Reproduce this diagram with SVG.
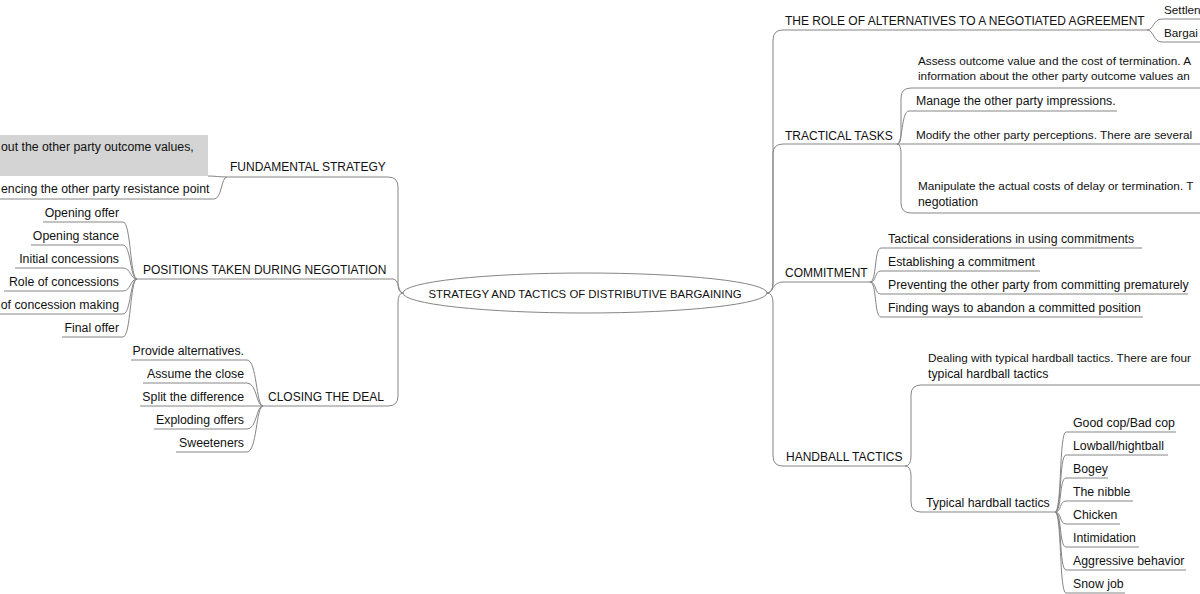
<svg xmlns="http://www.w3.org/2000/svg" width="1200" height="594" viewBox="0 0 1200 594">
<style>
.t{font-family:"Liberation Sans",Arial,sans-serif;font-size:12.3px;fill:#111}
.m{font-size:12px}
.s{font-size:11.75px}
.e{text-anchor:end}
.u,.c{fill:none;stroke:#858585;stroke-width:1}
</style>
<rect width="1200" height="594" fill="#fff"/>
<g id="connectors" class="c">
<path d="M403,293 Q398,293 398,283 V187 Q398,177 388,177"/>
<path d="M403,293 C398,293 399,279 393,279"/>
<path d="M403,293 Q398,293 398,303 V396 Q398,406 388,406"/>
<path d="M227,177 C220,177 215,176 208,176"/>
<path d="M227,177 C221,177 222,199 214,199"/>
<path d="M137,279 C130,279 131,222 123,222"/>
<path d="M137,279 C130,279 131,245 123,245"/>
<path d="M137,279 C130,279 131,268 123,268"/>
<path d="M137,279 C130,279 131,291 123,291"/>
<path d="M137,279 C130,279 131,314 123,314"/>
<path d="M137,279 C130,279 131,337 123,337"/>
<path d="M263,406 C256,406 257,360 247,360"/>
<path d="M263,406 C256,406 257,383 247,383"/>
<path d="M263,406 H247"/>
<path d="M263,406 C256,406 257,429 247,429"/>
<path d="M263,406 C256,406 257,452 247,452"/>
<path d="M767,293 Q773,293 773,283 V40 Q773,30 783,30"/>
<path d="M767,293 Q773,293 773,283 V154 Q773,144 783,144"/>
<path d="M767,293 C773,293 772,282 783,282"/>
<path d="M767,293 Q773,293 773,303 V456 Q773,466 783,466"/>
<path d="M1147,30 C1154,30 1153,19 1162,19"/>
<path d="M1147,30 C1154,30 1153,42 1162,42"/>
<path d="M897,144 Q901,144 901,134 V98 Q901,88 911,88"/>
<path d="M897,144 C903,144 901,111 909,111"/>
<path d="M897,144 H909"/>
<path d="M897,144 Q901,144 901,154 V203 Q901,213 911,213"/>
<path d="M870,282 C877,282 874,248 881,248"/>
<path d="M870,282 C877,282 874,271 881,271"/>
<path d="M870,282 C877,282 874,294 881,294"/>
<path d="M870,282 C877,282 874,317 881,317"/>
<path d="M905,466 Q911,466 911,456 V395 Q911,385 921,385"/>
<path d="M905,466 Q911,466 911,476 V502 Q911,512 921,512"/>
<path d="M1055,512 C1062,512 1059,432 1066,432"/>
<path d="M1055,512 C1062,512 1059,455 1066,455"/>
<path d="M1055,512 C1062,512 1059,478 1066,478"/>
<path d="M1055,512 C1062,512 1059,501 1066,501"/>
<path d="M1055,512 C1062,512 1059,524 1066,524"/>
<path d="M1055,512 C1062,512 1059,547 1066,547"/>
<path d="M1055,512 C1062,512 1059,570 1066,570"/>
<path d="M1055,512 C1062,512 1059,593 1066,593"/>
</g>
<g id="center">
<ellipse cx="585" cy="293" rx="182" ry="20" fill="#fff" stroke="#858585"/>
<text class="t" x="585" y="297.5" text-anchor="middle" style="font-size:11.4px">STRATEGY AND TACTICS OF DISTRIBUTIVE BARGAINING</text>
</g>
<g id="fundamental-strategy"><text class="t m" x="230" y="171">FUNDAMENTAL STRATEGY</text><path class="u" d="M227,177 H388"/></g>
<g id="fs-info"><rect x="0" y="135" width="208" height="41" fill="#d4d4d4"/><text class="t" x="1" y="151">out the other party outcome values,</text></g>
<g id="fs-influence"><text class="t" x="1" y="193">encing the other party resistance point</text><path class="u" d="M0,199 H214"/></g>
<g id="positions"><text class="t m" x="143" y="274">POSITIONS TAKEN DURING NEGOTIATION</text><path class="u" d="M137,279 H393"/></g>
<g id="opening-offer"><text class="t e" x="119" y="217">Opening offer</text><path class="u" d="M43,222 H123"/></g>
<g id="opening-stance"><text class="t e" x="119" y="240">Opening stance</text><path class="u" d="M31,245 H123"/></g>
<g id="initial-concessions"><text class="t e" x="119" y="263">Initial concessions</text><path class="u" d="M15,268 H123"/></g>
<g id="role-concessions"><text class="t e" x="119" y="286">Role of concessions</text><path class="u" d="M4,291 H123"/></g>
<g id="concession-making"><text class="t e" x="119" y="309">of concession making</text><path class="u" d="M0,314 H123"/></g>
<g id="final-offer"><text class="t e" x="119" y="332">Final offer</text><path class="u" d="M62,337 H123"/></g>
<g id="closing"><text class="t m" x="268" y="401">CLOSING THE DEAL</text><path class="u" d="M263,406 H388"/></g>
<g id="provide-alternatives"><text class="t e" x="244" y="355">Provide alternatives.</text><path class="u" d="M131,360 H247"/></g>
<g id="assume-close"><text class="t e" x="244" y="378">Assume the close</text><path class="u" d="M143,383 H247"/></g>
<g id="split-difference"><text class="t e" x="244" y="401">Split the difference</text><path class="u" d="M140,406 H247"/></g>
<g id="exploding-offers"><text class="t e" x="244" y="424">Exploding offers</text><path class="u" d="M154,429 H247"/></g>
<g id="sweeteners"><text class="t e" x="244" y="447">Sweeteners</text><path class="u" d="M176,452 H247"/></g>
<g id="role-alternatives"><text class="t m" x="785" y="25">THE ROLE OF ALTERNATIVES TO A NEGOTIATED AGREEMENT</text><path class="u" d="M783,30 H1147"/></g>
<g id="settlement"><text class="t s" x="1164" y="14">Settlen</text><path class="u" d="M1162,19 H1200"/></g>
<g id="bargaining"><text class="t s" x="1164" y="37">Bargai</text><path class="u" d="M1162,42 H1200"/></g>
<g id="tractical"><text class="t m" x="785" y="140">TRACTICAL TASKS</text><path class="u" d="M783,144 H897"/></g>
<g id="assess"><text class="t s" x="918" y="65">Assess outcome value and the cost of termination. A</text><text class="t s" x="918" y="80">information about the other party outcome values an</text><path class="u" d="M911,88 H1200"/></g>
<g id="manage"><text class="t" x="916" y="105">Manage the other party impressions.</text><path class="u" d="M909,111 H1117"/></g>
<g id="modify"><text class="t s" x="916" y="139">Modify the other party perceptions. There are several</text><path class="u" d="M909,144 H1200"/></g>
<g id="manipulate"><text class="t s" x="918" y="190">Manipulate the actual costs of delay or termination. T</text><text class="t" x="918" y="206">negotiation</text><path class="u" d="M911,213 H1200"/></g>
<g id="commitment"><text class="t m" x="785" y="277">COMMITMENT</text><path class="u" d="M783,282 H870"/></g>
<g id="tactical-considerations"><text class="t" x="888" y="243">Tactical considerations in using commitments</text><path class="u" d="M881,248 H1142"/></g>
<g id="establishing"><text class="t" x="888" y="266">Establishing a commitment</text><path class="u" d="M881,271 H1040"/></g>
<g id="preventing"><text class="t" x="888" y="289">Preventing the other party from committing prematurely</text><path class="u" d="M881,294 H1188"/></g>
<g id="finding-ways"><text class="t" x="888" y="312">Finding ways to abandon a committed position</text><path class="u" d="M881,317 H1143"/></g>
<g id="handball"><text class="t m" x="786" y="461">HANDBALL TACTICS</text><path class="u" d="M783,466 H905"/></g>
<g id="dealing"><text class="t s" x="928" y="362">Dealing with typical hardball tactics. There are four</text><text class="t" x="928" y="378">typical hardball tactics</text><path class="u" d="M921,385 H1200"/></g>
<g id="typical"><text class="t" x="926" y="507">Typical hardball tactics</text><path class="u" d="M921,512 H1055"/></g>
<g id="good-cop"><text class="t" x="1073" y="427">Good cop/Bad cop</text><path class="u" d="M1066,432 H1176"/></g>
<g id="lowball"><text class="t" x="1073" y="450">Lowball/hightball</text><path class="u" d="M1066,455 H1168"/></g>
<g id="bogey"><text class="t" x="1073" y="473">Bogey</text><path class="u" d="M1066,478 H1108"/></g>
<g id="nibble"><text class="t" x="1073" y="496">The nibble</text><path class="u" d="M1066,501 H1133"/></g>
<g id="chicken"><text class="t" x="1073" y="519">Chicken</text><path class="u" d="M1066,524 H1120"/></g>
<g id="intimidation"><text class="t" x="1073" y="542">Intimidation</text><path class="u" d="M1066,547 H1139"/></g>
<g id="aggressive"><text class="t" x="1073" y="565">Aggressive behavior</text><path class="u" d="M1066,570 H1186"/></g>
<g id="snow-job"><text class="t" x="1073" y="588">Snow job</text><path class="u" d="M1066,593 H1125"/></g>
</svg>
